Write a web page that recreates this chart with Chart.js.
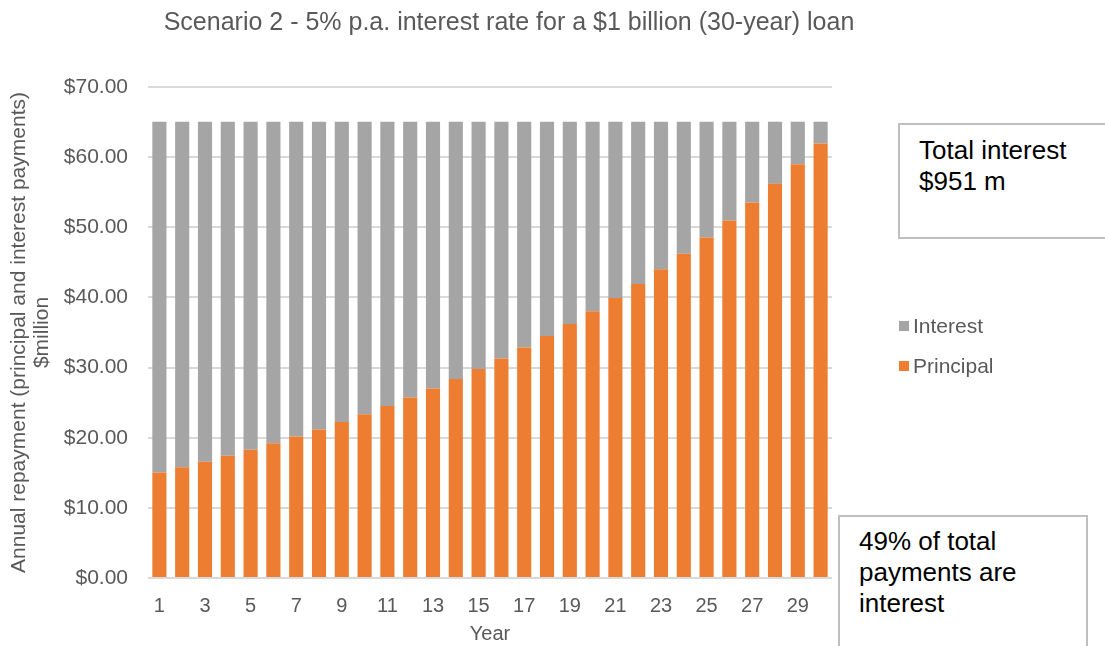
<!DOCTYPE html>
<html>
<head>
<meta charset="utf-8">
<script src="https://cdn.jsdelivr.net/npm/chart.js@4/dist/chart.umd.min.js"></script>
<style>
body { margin:0; background:#fff; font-family:"Liberation Sans", Arial, sans-serif; }
#wrap { position:relative; width:1105px; height:646px; overflow:hidden; }
#mycanvas { position:absolute; left:0; top:0; }
.title { position:absolute; left:0; width:1018px; top:7px; text-align:center; font-size:25px; color:#595959; white-space:nowrap; }
.box { position:absolute; border:2px solid #bfbfbf; background:#fff; color:#000; font-size:26px; line-height:31px; box-sizing:border-box; }
.legend { position:absolute; left:899px; font-size:21px; color:#595959; }
.legend span { display:inline-block; width:10px; height:10px; margin-right:4px; vertical-align:2px; }
</style>
</head>
<body>
<div id="wrap">
<canvas id="mycanvas" width="1105" height="646"></canvas>
<div class="title">Scenario 2 - 5% p.a. interest rate for a $1 billion (30-year) loan</div>
<div class="legend" style="top:314px;"><span style="background:#a5a5a5"></span>Interest</div>
<div class="legend" style="top:354px;"><span style="background:#ed7d31"></span>Principal</div>
<div class="box" style="left:898px; top:123px; width:220px; height:116px; padding:10px 0 0 19px;">Total interest<br>$951 m</div>
<div class="box" style="left:838px; top:515px; width:250px; height:150px; padding:9px 0 0 19px;">49% of total<br>payments are<br>interest</div>
</div>
<script>
var years = [];
for (var y = 1; y <= 30; y++) years.push(y);

var principal = [15.05, 15.80, 16.59, 17.42, 18.29, 19.21, 20.17, 21.18, 22.24, 23.35,
	24.52, 25.74, 27.03, 28.38, 29.80, 31.29, 32.85, 34.50, 36.22, 38.03,
	39.93, 41.93, 44.03, 46.23, 48.54, 50.97, 53.52, 56.19, 59.00, 61.95];
var interest = [50.00, 49.25, 48.46, 47.63, 46.76, 45.84, 44.88, 43.87, 42.81, 41.70,
	40.53, 39.31, 38.02, 36.67, 35.25, 33.76, 32.20, 30.55, 28.83, 27.02,
	25.12, 23.12, 21.02, 18.82, 16.51, 14.08, 11.53, 8.86, 6.05, 3.10];
var yTicks = [0, 10, 20, 30, 40, 50, 60, 70];

var grey = '#595959';
var ctx = document.getElementById('mycanvas');
var chart = new Chart(ctx, {
	type: 'bar',
	data: {
		labels: years,
		datasets: [
			{ label: 'Principal', data: principal, backgroundColor: '#ed7d31', barPercentage: 0.62, categoryPercentage: 1 },
			{ label: 'Interest', data: interest, backgroundColor: '#a5a5a5', barPercentage: 0.62, categoryPercentage: 1 }
		]
	},
	options: {
		responsive: false,
		animation: false,
		layout: { padding: { left: 0, right: 273, top: 87, bottom: 0 } },
		plugins: {
			legend: { display: false },
			tooltip: { enabled: false }
		},
		scales: {
			x: {
				stacked: true,
				afterFit: function(s) { s.height = 68; },
				grid: { display: false, drawTicks: false },
				border: { display: false },
				ticks: {
					color: grey, font: { family: 'Liberation Sans', size: 20 },
					maxRotation: 0, autoSkip: false, padding: 16,
					callback: function(v, i) { return i % 2 === 0 ? years[i] : ''; }
				},
				title: { display: true, text: 'Year', color: grey, font: { family: 'Liberation Sans', size: 20 }, padding: { top: 2, bottom: 0 } }
			},
			y: {
				stacked: true,
				min: 0, max: 70,
				afterFit: function(s) { s.width = 148; },
				afterBuildTicks: function(s) { s.ticks = yTicks.map(function(v) { return { value: v }; }); },
				grid: { color: '#d9d9d9', lineWidth: 2, drawTicks: false },
				border: { display: false },
				ticks: {
					color: grey, font: { family: 'Liberation Sans', size: 21 }, padding: 20,
					callback: function(v) { return '$' + v.toFixed(2); }
				},
				title: {
					display: true,
					text: ['Annual repayment (principal and interest payments)', '$million'],
					color: grey, font: { family: 'Liberation Sans', size: 21, lineHeight: 1.1 }, padding: { top: 8, bottom: 0 }
				}
			}
		}
	}
});
</script>
</body>
</html>
